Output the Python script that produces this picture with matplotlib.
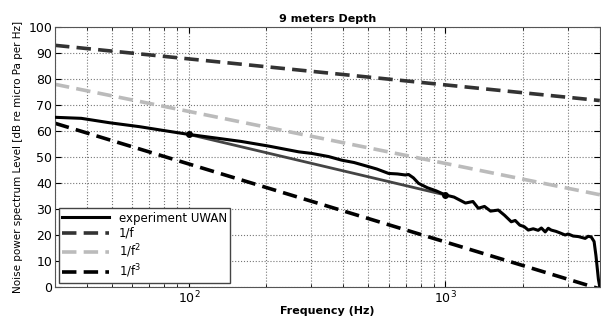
import numpy as np
import matplotlib
matplotlib.use("Agg")
import matplotlib.pyplot as plt
from matplotlib.ticker import LogLocator, NullFormatter

freq = [30, 38, 49, 64, 81, 100, 130, 160, 205, 268, 301, 350, 394, 440, 502, 540, 600,
        650, 698, 718, 750, 785, 850, 920, 1000, 1080, 1197, 1280, 1343, 1420, 1500, 1607,
        1700, 1806, 1871, 1950, 2030, 2104, 2200, 2300, 2367, 2450, 2518, 2585, 2700,
        2800, 2931, 3010, 3150, 3300, 3508, 3600, 3700, 3800, 3865, 3950, 4000]
level = [65.3, 64.9, 63.2, 61.7, 60.1, 58.7, 57.2, 56.0, 54.2, 52.0, 51.4, 50.2, 48.8,
         47.9, 46.3, 45.4, 43.7, 43.5, 43.1, 43.3, 42.0, 39.9, 38.2, 37.0, 35.4, 34.6,
         32.3, 32.9, 30.3, 31.0, 29.2, 29.6, 27.6, 25.1, 25.6, 23.8, 23.2, 21.9, 22.4,
         21.8, 22.7, 21.2, 22.6, 21.9, 21.4, 20.8, 20.0, 20.4, 19.6, 19.4, 18.7, 19.5,
         19.3, 17.5, 12.0, 3.0, 0.0]

# fitted segment between the two marked points
fit_freq = [100, 1000]
fit_level = [58.7, 35.4]

# reference slopes: level at 30 Hz, dB per decade
ref_f0 = 30
ref_names = ["1/f", "1/f$^2$", "1/f$^3$"]
ref_start = [93, 78, 63]
ref_slope = [10, 20, 30]
ref_colors = ["#333333", "#bbbbbb", "#000000"]

f_ref = np.array([30, 4000])

fig = plt.figure(figsize=(6.01, 3.23), dpi=100)
ax = fig.add_axes([0.0915, 0.1115, 0.9065, 0.8045])

ax.plot(freq, level, color="black", lw=2.2, label="experiment UWAN", zorder=5)
for name, start, slope, col in zip(ref_names, ref_start, ref_slope, ref_colors):
    ax.plot(f_ref, start - slope * np.log10(f_ref / ref_f0), color=col, lw=2.6,
            dashes=(4, 2), label=name)
ax.plot(fit_freq, fit_level, color="#444444", lw=2.0, zorder=4)
ax.plot(fit_freq, fit_level, "o", color="black", ms=4, zorder=6)

ax.set_xscale("log")
ax.set_xlim(30, 4000)
ax.set_ylim(0, 100)
ax.set_yticks(range(0, 101, 10))
ax.xaxis.set_minor_locator(LogLocator(base=10, subs=np.arange(2, 10)))
ax.xaxis.set_minor_formatter(NullFormatter())
ax.grid(True, which="both", axis="x", linestyle=":", color="#777777", lw=0.8)
ax.grid(True, which="major", axis="y", linestyle=":", color="#777777", lw=0.8)
ax.tick_params(which="both", direction="in", top=True, right=True, labelsize=9)
ax.tick_params(which="major", length=4, pad=2)
ax.tick_params(which="minor", length=2.5)
for sp in ax.spines.values():
    sp.set_color("#555555")

ax.set_title("9 meters Depth", fontsize=8, fontweight="bold", pad=4)
ax.set_xlabel("Frequency (Hz)", fontsize=8, fontweight="bold", labelpad=0)
ax.set_ylabel("Noise power spectrum Level [dB re micro Pa per Hz]", fontsize=7.5, labelpad=4)

leg = ax.legend(loc="lower left", fontsize=8.5, fancybox=False, framealpha=1,
                edgecolor="#444444", handlelength=4, borderpad=0.3, labelspacing=0.2,
                borderaxespad=0.3)
leg.get_frame().set_linewidth(1.0)

fig.savefig("out.png", dpi=100)
